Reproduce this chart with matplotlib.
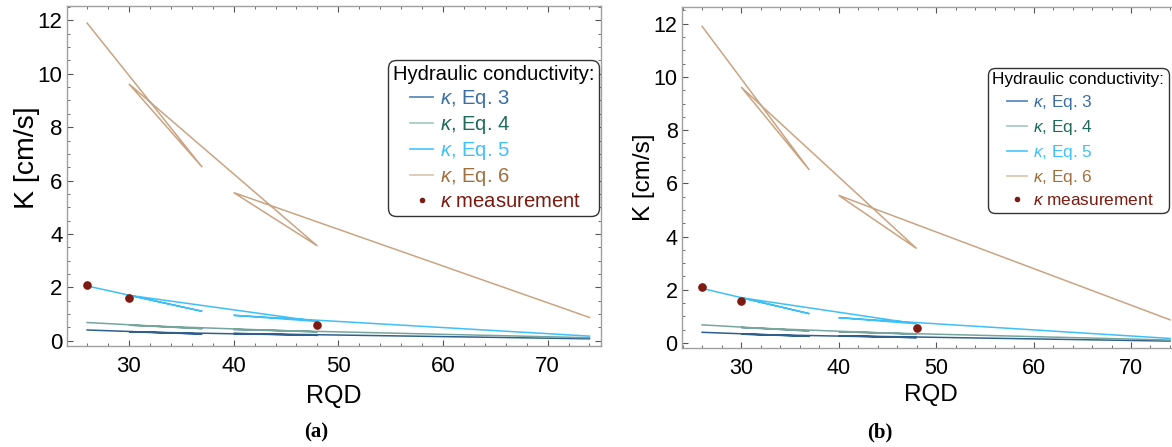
import matplotlib
matplotlib.use("Agg")
import matplotlib.pyplot as plt
from matplotlib.lines import Line2D
from matplotlib.legend_handler import HandlerBase
from matplotlib.ticker import MultipleLocator

plt.rcParams['font.family'] = ['Liberation Sans', 'DejaVu Sans']
plt.rcParams['mathtext.fontset'] = 'custom'
plt.rcParams['mathtext.it'] = 'Liberation Sans:italic'
plt.rcParams['mathtext.rm'] = 'Liberation Sans'

# ---- data ----
rqd = [26, 37, 30, 48, 40, 74]
k_eq3 = [0.40, 0.25, 0.33, 0.20, 0.27, 0.07]
k_eq4 = [0.68, 0.45, 0.58, 0.33, 0.42, 0.11]
k_eq5 = [2.05, 1.10, 1.70, 0.72, 0.95, 0.17]
k_eq6 = [11.9, 6.5, 9.62, 3.55, 5.55, 0.87]
meas_rqd = [26, 30, 48]
meas_k = [2.1, 1.58, 0.57]

series_labels = [r"$\kappa$, Eq. 3", r"$\kappa$, Eq. 4", r"$\kappa$, Eq. 5", r"$\kappa$, Eq. 6"]
meas_label = r"$\kappa$ measurement"
legend_title = "Hydraulic conductivity:"

line_colors = ['#2f5f8e', '#76a59d', '#3ec0f7', '#c9a482']
handle_colors = ['#5d8cba', '#a9cbc3', '#55c8ff', '#dcc7b2']
text_colors = ['#3a6fa6', '#1f6a5a', '#3fc0ff', '#a0703e', '#7a1a10']
meas_color = '#7d1a12'
frame_color = '#a0a0a0'

W, H = 1172, 447
fig = plt.figure(figsize=(W / 100, H / 100), dpi=100)


class IndentHandler(HandlerBase):
    def __init__(self, color, kind):
        super().__init__()
        self.color = color
        self.kind = kind

    def create_artists(self, legend, orig_handle, xdescent, ydescent,
                       width, height, fontsize, trans):
        y = height / 2 - ydescent
        x0 = -xdescent
        if self.kind == 'line':
            art = Line2D([x0 + width * 0.42, x0 + width], [y, y],
                         color=self.color, lw=1.3, transform=trans)
        else:
            art = Line2D([x0 + width * 0.72], [y], marker='o', ms=3,
                         color=self.color, lw=0, transform=trans)
        return [art]


def panel(rect, xlim, ylim, tick_fs, lab_fs, ylab_fs, ylab_xy, leg_fs, leg_ls,
          leg_loc, leg_anchor, letter, letter_xy, xlabel_y):
    ax = fig.add_axes(rect)
    eqs = [k_eq3, k_eq4, k_eq5, k_eq6]
    for vals, c in zip(eqs, line_colors):
        ax.plot(rqd, vals, color=c, lw=1.1, solid_joinstyle='miter')
    ax.plot(meas_rqd, meas_k, 'o', color=meas_color, ms=5.2, zorder=5)
    ax.set_xlim(*xlim)
    ax.set_ylim(*ylim)
    ax.xaxis.set_major_locator(MultipleLocator(10))
    ax.xaxis.set_minor_locator(MultipleLocator(2))
    ax.yaxis.set_major_locator(MultipleLocator(2))
    ax.yaxis.set_minor_locator(MultipleLocator(0.5))
    ax.tick_params(which='both', direction='in', top=True, right=True,
                   color='#555555', labelsize=tick_fs)
    ax.tick_params(axis='x', which='both', pad=7)
    ax.tick_params(axis='y', which='both', pad=3)
    ax.tick_params(which='major', length=4, width=0.8)
    ax.tick_params(which='minor', length=2.2, width=0.6)
    for s in ax.spines.values():
        s.set_color(frame_color)
        s.set_linewidth(1.0)
    ax.set_ylabel("K [cm/s]", fontsize=ylab_fs)
    ax.yaxis.set_label_coords(*ylab_xy)
    ax.set_xlabel("RQD", fontsize=lab_fs)
    ax.xaxis.set_label_coords(0.5, xlabel_y)

    handles = [Line2D([], []) for _ in range(5)]
    hmap = {}
    for h, c in zip(handles[:4], handle_colors):
        hmap[h] = IndentHandler(c, 'line')
    hmap[handles[4]] = IndentHandler(meas_color, 'dot')
    leg = ax.legend(handles, series_labels + [meas_label], handler_map=hmap,
                    title=legend_title, title_fontsize=leg_fs, fontsize=leg_fs,
                    loc=leg_loc, bbox_to_anchor=leg_anchor,
                    alignment='left', handlelength=2.0, handletextpad=0.35,
                    labelspacing=leg_ls, borderpad=0.25, borderaxespad=0,
                    frameon=True,
                    fancybox=True, edgecolor='#333333', framealpha=1.0)
    leg.get_frame().set_linewidth(1.0)
    leg.get_frame().set_boxstyle('round,pad=0,rounding_size=0.4')
    for t, c in zip(leg.get_texts(), text_colors):
        t.set_color(c)
    fig.text(letter_xy[0], letter_xy[1], letter, family='Liberation Serif',
             fontweight='bold', fontsize=15, ha='center', va='center')
    return ax


# left panel (a)
panel([66.7 / W, (H - 346) / H, 534.3 / W, 340 / H],
      (24.05, 75.1), (-0.2, 12.54), 16, 18, 20.5, (-0.05, 0.555), 14.6, 0.2,
      'upper right', (0.997, 0.842), '(a)', (316 / W, (H - 432) / H), -0.112)

# right panel (b) (cropped at figure edge)
panel([681.7 / W, (H - 348) / H, 499 / W, 341 / H],
      (23.9, 75.1), (-0.19, 12.63), 15.5, 17.5, 17.5, (-0.054, 0.5), 12.4, 0.35,
      'upper left', (0.614, 0.822), '(b)', (880 / W, (H - 432) / H), -0.106)

fig.savefig("out.png", dpi=100)
